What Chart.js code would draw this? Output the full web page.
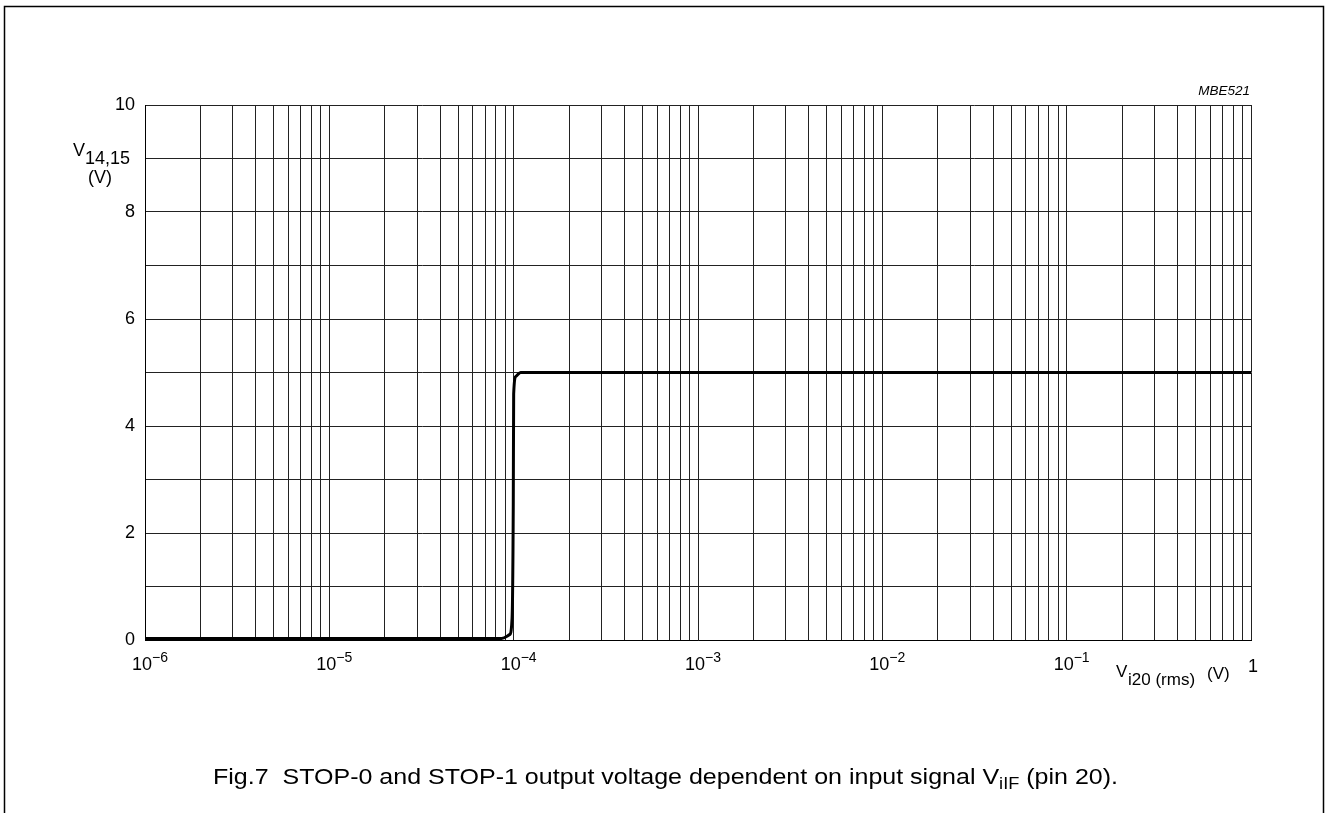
<!DOCTYPE html>
<html>
<head>
<meta charset="utf-8">
<script src="https://cdn.jsdelivr.net/npm/chart.js@4"></script>
<style>
  body { margin: 0; background: #fff; }
  #wrap { width: 1326px; height: 813px; position: relative; }
</style>
</head>
<body>
<div id="wrap"><canvas id="chart"></canvas></div>
<script>
const FONT = "'Liberation Sans', Arial, sans-serif";

// data
const curveX = [1e-6, 8.6e-5, 9.5e-5, 9.8e-5, 9.95e-5, 1.0e-4, 1.03e-4, 1.09e-4, 1];
const curveY = [0.03, 0.03, 0.1, 0.4, 2.5, 4.6, 4.93, 5, 5];

const decades = [-6, -5, -4, -3, -2, -1];
const mantissas = [1, 2, 3, 4, 5, 6, 7, 8, 9];
const xTickExps = ['\u22126', '\u22125', '\u22124', '\u22123', '\u22122', '\u22121'];
const yLabelsShown = [0, 2, 4, 6, 8, 10];

const xGrid = [];
decades.forEach(e => mantissas.forEach(m => xGrid.push(m * Math.pow(10, e))));
xGrid.push(1);

const extras = {
  id: 'extras',
  afterDraw(chart) {
    const ctx = chart.ctx;
    const xs = chart.scales.x;
    ctx.save();
    ctx.fillStyle = '#000';

    // frame around the figure
    ctx.strokeStyle = '#000';
    ctx.lineWidth = 1.5;
    ctx.beginPath();
    ctx.moveTo(4.5, 813);
    ctx.lineTo(4.5, 6.5);
    ctx.lineTo(1323.5, 6.5);
    ctx.lineTo(1323.5, 813);
    ctx.stroke();

    // x tick labels 10^n
    ctx.textBaseline = 'alphabetic';
    decades.forEach((e, i) => {
      const px = xs.getPixelForValue(Math.pow(10, e)) - 3;
      ctx.font = '18px ' + FONT;
      ctx.textAlign = 'center';
      ctx.fillText('10', px, 670);
      const w = ctx.measureText('10').width;
      ctx.font = '14px ' + FONT;
      ctx.textAlign = 'left';
      ctx.fillText(xTickExps[i], px + w / 2, 662);
    });
    ctx.font = '18px ' + FONT;
    ctx.textAlign = 'center';
    ctx.fillText('1', xs.getPixelForValue(1) + 2, 672);

    // x axis title
    ctx.textAlign = 'left';
    ctx.font = '17px ' + FONT;
    ctx.fillText('V', 1116, 677);
    ctx.fillText('i20 (rms)', 1128, 685);
    ctx.fillText('(V)', 1207, 679);

    // y axis title
    ctx.font = '18px ' + FONT;
    ctx.fillText('V', 73, 156);
    ctx.fillText('14,15', 85, 164);
    ctx.textAlign = 'center';
    ctx.fillText('(V)', 100, 183);

    // figure code
    ctx.font = 'italic 13.5px ' + FONT;
    ctx.textAlign = 'right';
    ctx.fillText('MBE521', 1250, 95);

    // caption, stretched to the width of the original print
    const parts = [
      ['Fig.7  STOP-0 and STOP-1 output voltage dependent on input signal V', '22px', 0],
      ['iIF', '16px', 5],
      [' (pin 20).', '22px', 0]
    ];
    let total = 0;
    parts.forEach(p => { ctx.font = p[1] + ' ' + FONT; total += ctx.measureText(p[0]).width; });
    const sx = 905 / total;
    ctx.translate(213, 0);
    ctx.scale(sx, 1);
    let x = 0;
    ctx.textAlign = 'left';
    parts.forEach(p => {
      ctx.font = p[1] + ' ' + FONT;
      ctx.fillText(p[0], x, 784 + p[2]);
      x += ctx.measureText(p[0]).width;
    });
    ctx.restore();
  }
};

new Chart(document.getElementById('chart'), {
  type: 'line',
  data: {
    datasets: [{
      data: curveX.map((x, i) => ({ x, y: curveY[i] })),
      borderColor: '#000',
      borderWidth: 3,
      pointRadius: 0,
      cubicInterpolationMode: 'monotone',
      fill: false,
      clip: false
    }]
  },
  options: {
    responsive: true,
    maintainAspectRatio: false,
    animation: false,
    layout: { padding: { left: 0, right: 75, top: 105, bottom: 0 } },
    plugins: { legend: { display: false }, tooltip: { enabled: false } },
    scales: {
      x: {
        type: 'logarithmic',
        min: 1e-6,
        max: 1,
        afterBuildTicks: s => { s.ticks = xGrid.map(v => ({ value: v })); },
        afterFit: s => { s.height = 173; },
        ticks: { display: false, autoSkip: false },
        grid: { color: '#222', lineWidth: 1, drawTicks: false },
        border: { color: '#000', width: 1 }
      },
      y: {
        min: 0,
        max: 10,
        afterFit: s => { s.width = 145; },
        ticks: {
          stepSize: 1,
          padding: 10,
          color: '#000',
          font: { family: FONT, size: 18 },
          callback: v => yLabelsShown.includes(v) ? String(v) : ''
        },
        grid: { color: '#222', lineWidth: 1, drawTicks: false },
        border: { color: '#000', width: 1 }
      }
    }
  },
  plugins: [extras]
});
</script>
</body>
</html>
